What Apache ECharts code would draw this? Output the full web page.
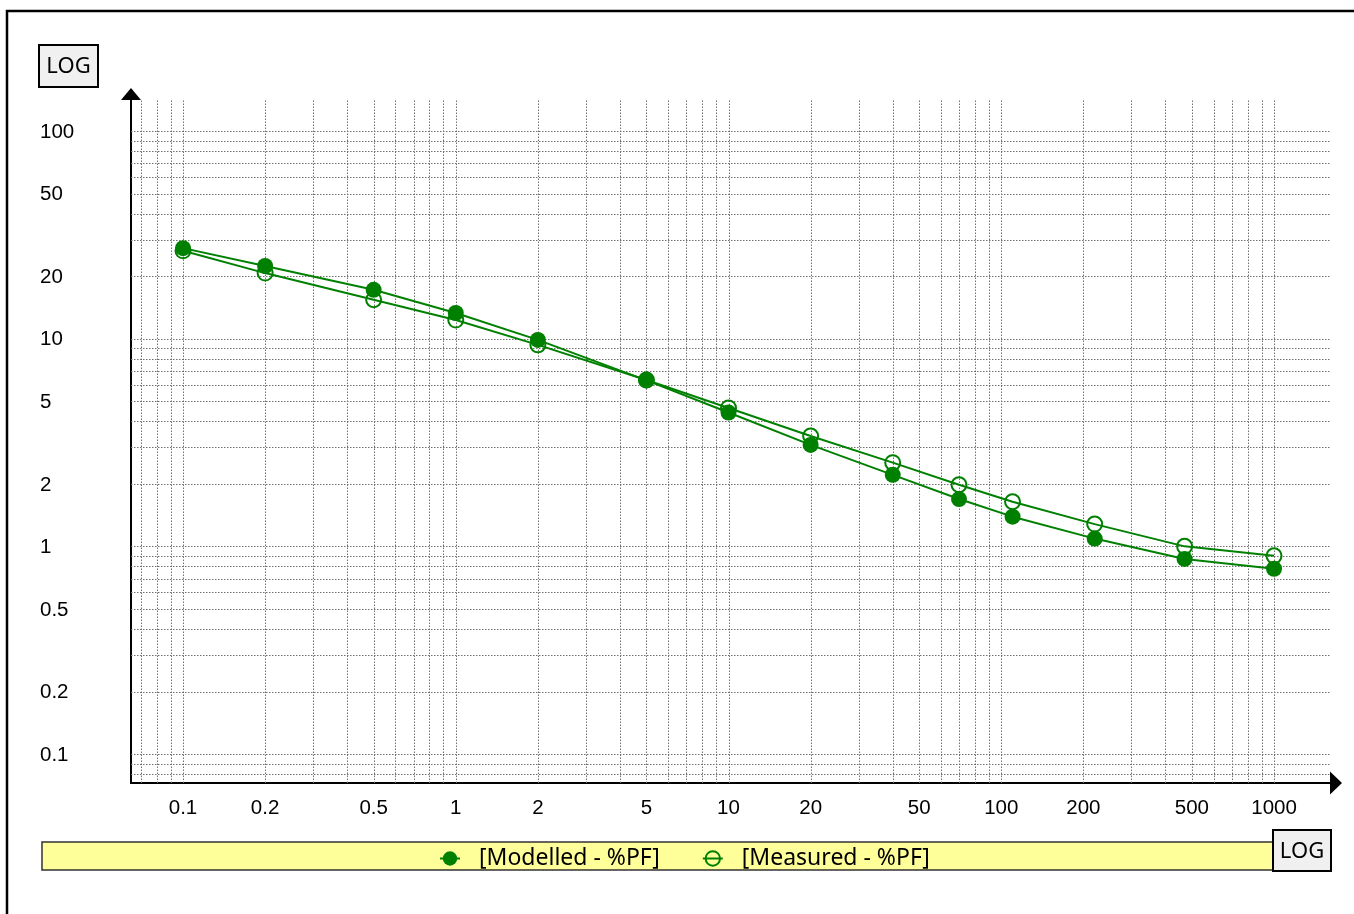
<!DOCTYPE html>
<html>
<head>
<meta charset="utf-8">
<script src="https://cdn.jsdelivr.net/npm/echarts@6/dist/echarts.min.js"></script>
<style>
  html, body { margin: 0; padding: 0; background: #fff; }
  #chart { width: 1354px; height: 914px; }
</style>
</head>
<body>
<div id="chart"></div>
<script>
// Time values along the horizontal axis and the two %PF series
const timeValues = [0.1, 0.2, 0.5, 1, 2, 5, 10, 20, 40, 70, 110, 220, 470, 1000];
const modelledPF = [27.3, 22.4, 17.2, 13.3, 9.87, 6.3, 4.41, 3.08, 2.21, 1.69, 1.39, 1.09, 0.87, 0.78];
const measuredPF = [26.5, 20.7, 15.4, 12.3, 9.34, 6.33, 4.64, 3.40, 2.53, 1.98, 1.64, 1.28, 1.00, 0.90];

// Tick labels printed along each axis
const xTickLabels = ['0.1', '0.2', '0.5', '1', '2', '5', '10', '20', '50', '100', '200', '500', '1000'];
const yTickLabels = ['100', '50', '20', '10', '5', '2', '1', '0.5', '0.2', '0.1'];

const seriesNames = ['[Modelled - %PF]', '[Measured - %PF]'];

// Axis extents (log scales)
const X_MIN = 0.06446, X_MAX = 1604;
const Y_MIN = 0.07252, Y_MAX = 141.1;

const GREEN = '#008000';
const TICK_FONT = '20.5px "Liberation Sans", Arial, sans-serif';

// 1..9 x 10^n grid values inside an extent
function logGridValues(min, max) {
  const out = [];
  for (let e = -3; e <= 4; e++) {
    for (let m = 1; m <= 9; m++) {
      const v = +(m * Math.pow(10, e)).toPrecision(6);
      if (v > min && v < max) out.push(v);
    }
  }
  return out;
}
const xGridValues = logGridValues(X_MIN, X_MAX);
const yGridValues = logGridValues(Y_MIN, Y_MAX);

const gridLineStyle = { stroke: '#707070', lineWidth: 1, lineDash: [1.5, 1.5] };

function renderVerticalGrid(params, api) {
  const v = api.value(0);
  const a = api.coord([v, Y_MIN]);
  const b = api.coord([v, Y_MAX]);
  const x = Math.round(a[0]) + 0.5;
  return { type: 'line', silent: true, shape: { x1: x, y1: a[1], x2: x, y2: b[1] }, style: gridLineStyle };
}
function renderHorizontalGrid(params, api) {
  const v = api.value(1);
  const a = api.coord([X_MIN, v]);
  const b = api.coord([X_MAX, v]);
  const y = Math.round(a[1]) + 0.5;
  return { type: 'line', silent: true, shape: { x1: a[0], y1: y, x2: b[0], y2: y }, style: gridLineStyle };
}
function renderXLabel(params, api) {
  const p = api.coord([api.value(0), Y_MIN]);
  return {
    type: 'text', silent: true, x: p[0], y: p[1] + 25,
    style: { text: xTickLabels[params.dataIndex], font: TICK_FONT, fill: '#000',
             align: 'center', verticalAlign: 'middle', textAlign: 'center', textVerticalAlign: 'middle' }
  };
}
function renderYLabel(params, api) {
  const p = api.coord([X_MIN, api.value(1)]);
  return {
    type: 'text', silent: true, x: 40, y: p[1] + 1,
    style: { text: yTickLabels[params.dataIndex], font: TICK_FONT, fill: '#000',
             align: 'left', verticalAlign: 'middle', textAlign: 'left', textVerticalAlign: 'middle' }
  };
}

function logBox(x, y, w, h) {
  return {
    type: 'group', x: x, y: y, silent: true,
    children: [
      { type: 'rect', shape: { x: 0, y: 0, width: w, height: h },
        style: { fill: '#f0f0f0', stroke: '#000', lineWidth: 2 } },
      { type: 'text', x: w / 2, y: h / 2 + 1,
        style: { text: 'LOG', font: '22px "Noto Sans", "Open Sans", sans-serif', fill: '#000',
                 align: 'center', verticalAlign: 'middle', textAlign: 'center', textVerticalAlign: 'middle' } }
    ]
  };
}

const chart = echarts.init(document.getElementById('chart'), null, { renderer: 'canvas' });

const axisCommon = {
  type: 'log',
  logBase: 10,
  axisLabel: { show: false },
  axisTick: { show: false },
  splitLine: { show: false },
  minorTick: { show: false },
  minorSplitLine: { show: false }
};

chart.setOption({
  animation: false,
  backgroundColor: '#fff',
  grid: { left: 131, top: 100, width: 1199, height: 683, containLabel: false, outerBoundsMode: 'none' },
  xAxis: Object.assign({}, axisCommon, {
    min: X_MIN, max: X_MAX,
    axisLine: { show: true, onZero: false, symbol: ['none', 'triangle'], symbolSize: [23, 12], symbolOffset: [0, 6],
                lineStyle: { color: '#000', width: 2 } }
  }),
  yAxis: Object.assign({}, axisCommon, {
    min: Y_MIN, max: Y_MAX,
    axisLine: { show: true, onZero: false, symbol: ['none', 'triangle'], symbolSize: [20, 12], symbolOffset: [0, 6],
                lineStyle: { color: '#000', width: 2 } }
  }),
  legend: {
    data: seriesNames,
    left: 439, top: 847,
    padding: 0,
    itemGap: 42,
    itemWidth: 20, itemHeight: 18,
    textStyle: { fontFamily: '"Noto Sans", "Open Sans", sans-serif', fontSize: 23, color: '#000', padding: [0, 0, 0, 14] }
  },
  graphic: [
    { type: 'rect', silent: true, z: -10, shape: { x: 7, y: 11, width: 1400, height: 1000 },
      style: { fill: 'none', stroke: '#000', lineWidth: 2.5 } },
    { type: 'rect', silent: true, z: -5, shape: { x: 42, y: 842, width: 1240, height: 28 },
      style: { fill: '#ffff99', stroke: '#333', lineWidth: 1.5 } },
    logBox(39, 45, 59, 42),
    logBox(1273, 830, 58, 41)
  ],
  series: [
    { type: 'custom', silent: true, z: 1, clip: false, renderItem: renderVerticalGrid,
      data: xGridValues.map(v => [v, Y_MIN]) },
    { type: 'custom', silent: true, z: 1, clip: false, renderItem: renderHorizontalGrid,
      data: yGridValues.map(v => [X_MIN, v]) },
    { type: 'custom', silent: true, z: 1, clip: false, renderItem: renderXLabel,
      data: xTickLabels.map(t => [parseFloat(t), Y_MIN]) },
    { type: 'custom', silent: true, z: 1, clip: false, renderItem: renderYLabel,
      data: yTickLabels.map(t => [X_MIN, parseFloat(t)]) },
    {
      name: seriesNames[0], type: 'line', z: 3,
      data: timeValues.map((t, i) => [t, modelledPF[i]]),
      symbol: 'circle', symbolSize: 16,
      lineStyle: { color: GREEN, width: 2 },
      itemStyle: { color: GREEN },
      emphasis: { disabled: true }
    },
    {
      name: seriesNames[1], type: 'line', z: 4,
      data: timeValues.map((t, i) => [t, measuredPF[i]]),
      symbol: 'circle', symbolSize: 15,
      lineStyle: { color: GREEN, width: 2 },
      itemStyle: { color: 'rgba(255,255,255,0)', borderColor: GREEN, borderWidth: 2 },
      emphasis: { disabled: true }
    }
  ]
});
</script>
</body>
</html>
